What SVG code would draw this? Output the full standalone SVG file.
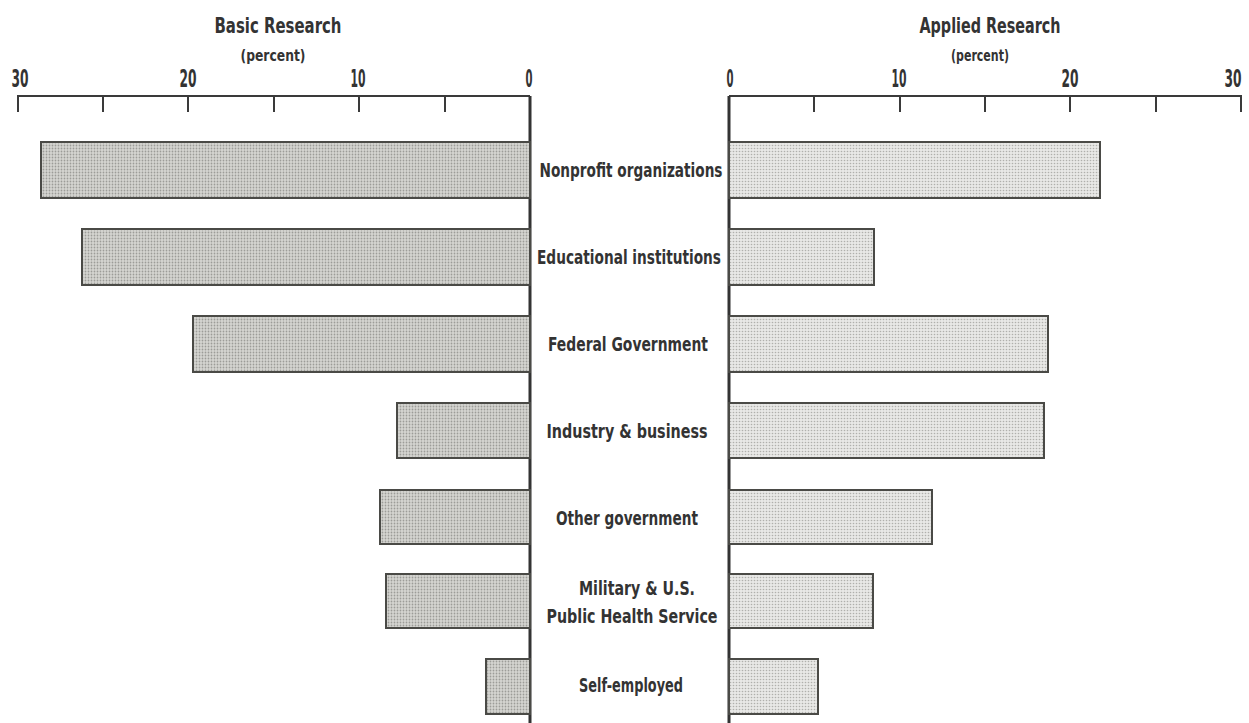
<svg xmlns="http://www.w3.org/2000/svg" width="1249" height="723" viewBox="0 0 1249 723">
<defs>
<pattern id="dotL" width="3" height="3" patternUnits="userSpaceOnUse">
<rect width="3" height="3" fill="#d6d6d2"/>
<circle cx="1.5" cy="1.5" r="0.9" fill="#9c9c98"/>
</pattern>
<pattern id="dotR" width="3" height="3" patternUnits="userSpaceOnUse">
<rect width="3" height="3" fill="#e8e8e6"/>
<circle cx="1.5" cy="1.5" r="0.8" fill="#b0b0ac"/>
</pattern>
</defs>
<style>
text{font-family:"Liberation Sans Narrow","DejaVu Sans Condensed","Liberation Sans",sans-serif;font-weight:bold;fill:#333;text-anchor:middle}
.ttl{font-size:21px}
.pct{font-size:16px}
.num{font-size:25px}
.lbl{font-size:20px}
.axis{stroke:#3a3a3a;stroke-width:2;fill:none}
.base{stroke:#333;stroke-width:3;fill:none}
.barL{fill:url(#dotL);stroke:#4a4a46;stroke-width:2}
.barR{fill:url(#dotR);stroke:#4a4a46;stroke-width:2}
</style>
<rect width="1249" height="723" fill="#ffffff"/>
<g id="left-axis">
<text class="ttl" x="278" y="33" textLength="127" lengthAdjust="spacingAndGlyphs">Basic Research</text>
<text class="pct" x="273" y="61" textLength="65" lengthAdjust="spacingAndGlyphs">(percent)</text>
<text class="num" x="20" y="87" textLength="17" lengthAdjust="spacingAndGlyphs">30</text>
<text class="num" x="188" y="87" textLength="17" lengthAdjust="spacingAndGlyphs">20</text>
<text class="num" x="358" y="87" textLength="15" lengthAdjust="spacingAndGlyphs">10</text>
<text class="num" x="529" y="87" textLength="7" lengthAdjust="spacingAndGlyphs">0</text>
<path class="axis" d="M18,112 V96 H530 M103,96 V112 M188,96 V112 M274,96 V112 M359,96 V112 M445,96 V112"/>
<path class="base" d="M530,96 V723"/>
</g>
<g id="right-axis">
<text class="ttl" x="990" y="33" textLength="141" lengthAdjust="spacingAndGlyphs">Applied Research</text>
<text class="pct" x="980" y="61" textLength="58" lengthAdjust="spacingAndGlyphs">(percent)</text>
<text class="num" x="730" y="87" textLength="7" lengthAdjust="spacingAndGlyphs">0</text>
<text class="num" x="899" y="87" textLength="15" lengthAdjust="spacingAndGlyphs">10</text>
<text class="num" x="1070" y="87" textLength="17" lengthAdjust="spacingAndGlyphs">20</text>
<text class="num" x="1233" y="87" textLength="17" lengthAdjust="spacingAndGlyphs">30</text>
<path class="axis" d="M729,96 H1241 V112 M814,96 V112 M900,96 V112 M985,96 V112 M1070,96 V112 M1156,96 V112"/>
<path class="base" d="M729,96 V723"/>
</g>
<g id="nonprofit">
<rect class="barL" x="41" y="142" width="489" height="56"/>
<rect class="barR" x="729" y="142" width="371" height="56"/>
<text class="lbl" x="631" y="177" textLength="183" lengthAdjust="spacingAndGlyphs">Nonprofit organizations</text>
</g>
<g id="educational">
<rect class="barL" x="82" y="229" width="448" height="56"/>
<rect class="barR" x="729" y="229" width="145" height="56"/>
<text class="lbl" x="629" y="264" textLength="184" lengthAdjust="spacingAndGlyphs">Educational institutions</text>
</g>
<g id="federal">
<rect class="barL" x="193" y="316" width="337" height="56"/>
<rect class="barR" x="729" y="316" width="319" height="56"/>
<text class="lbl" x="628" y="351" textLength="160" lengthAdjust="spacingAndGlyphs">Federal Government</text>
</g>
<g id="industry">
<rect class="barL" x="397" y="403" width="133" height="55"/>
<rect class="barR" x="729" y="403" width="315" height="55"/>
<text class="lbl" x="627" y="438" textLength="161" lengthAdjust="spacingAndGlyphs">Industry &amp; business</text>
</g>
<g id="other-government">
<rect class="barL" x="380" y="490" width="150" height="54"/>
<rect class="barR" x="729" y="490" width="203" height="54"/>
<text class="lbl" x="627" y="525" textLength="142" lengthAdjust="spacingAndGlyphs">Other government</text>
</g>
<g id="military">
<rect class="barL" x="386" y="574" width="144" height="54"/>
<rect class="barR" x="729" y="574" width="144" height="54"/>
<text class="lbl" x="637" y="595" textLength="116" lengthAdjust="spacingAndGlyphs">Military &amp; U.S.</text>
<text class="lbl" x="632" y="623" textLength="171" lengthAdjust="spacingAndGlyphs">Public Health Service</text>
</g>
<g id="self-employed">
<rect class="barL" x="486" y="659" width="44" height="55"/>
<rect class="barR" x="729" y="659" width="89" height="55"/>
<text class="lbl" x="631" y="692" textLength="104" lengthAdjust="spacingAndGlyphs">Self-employed</text>
</g>
</svg>
